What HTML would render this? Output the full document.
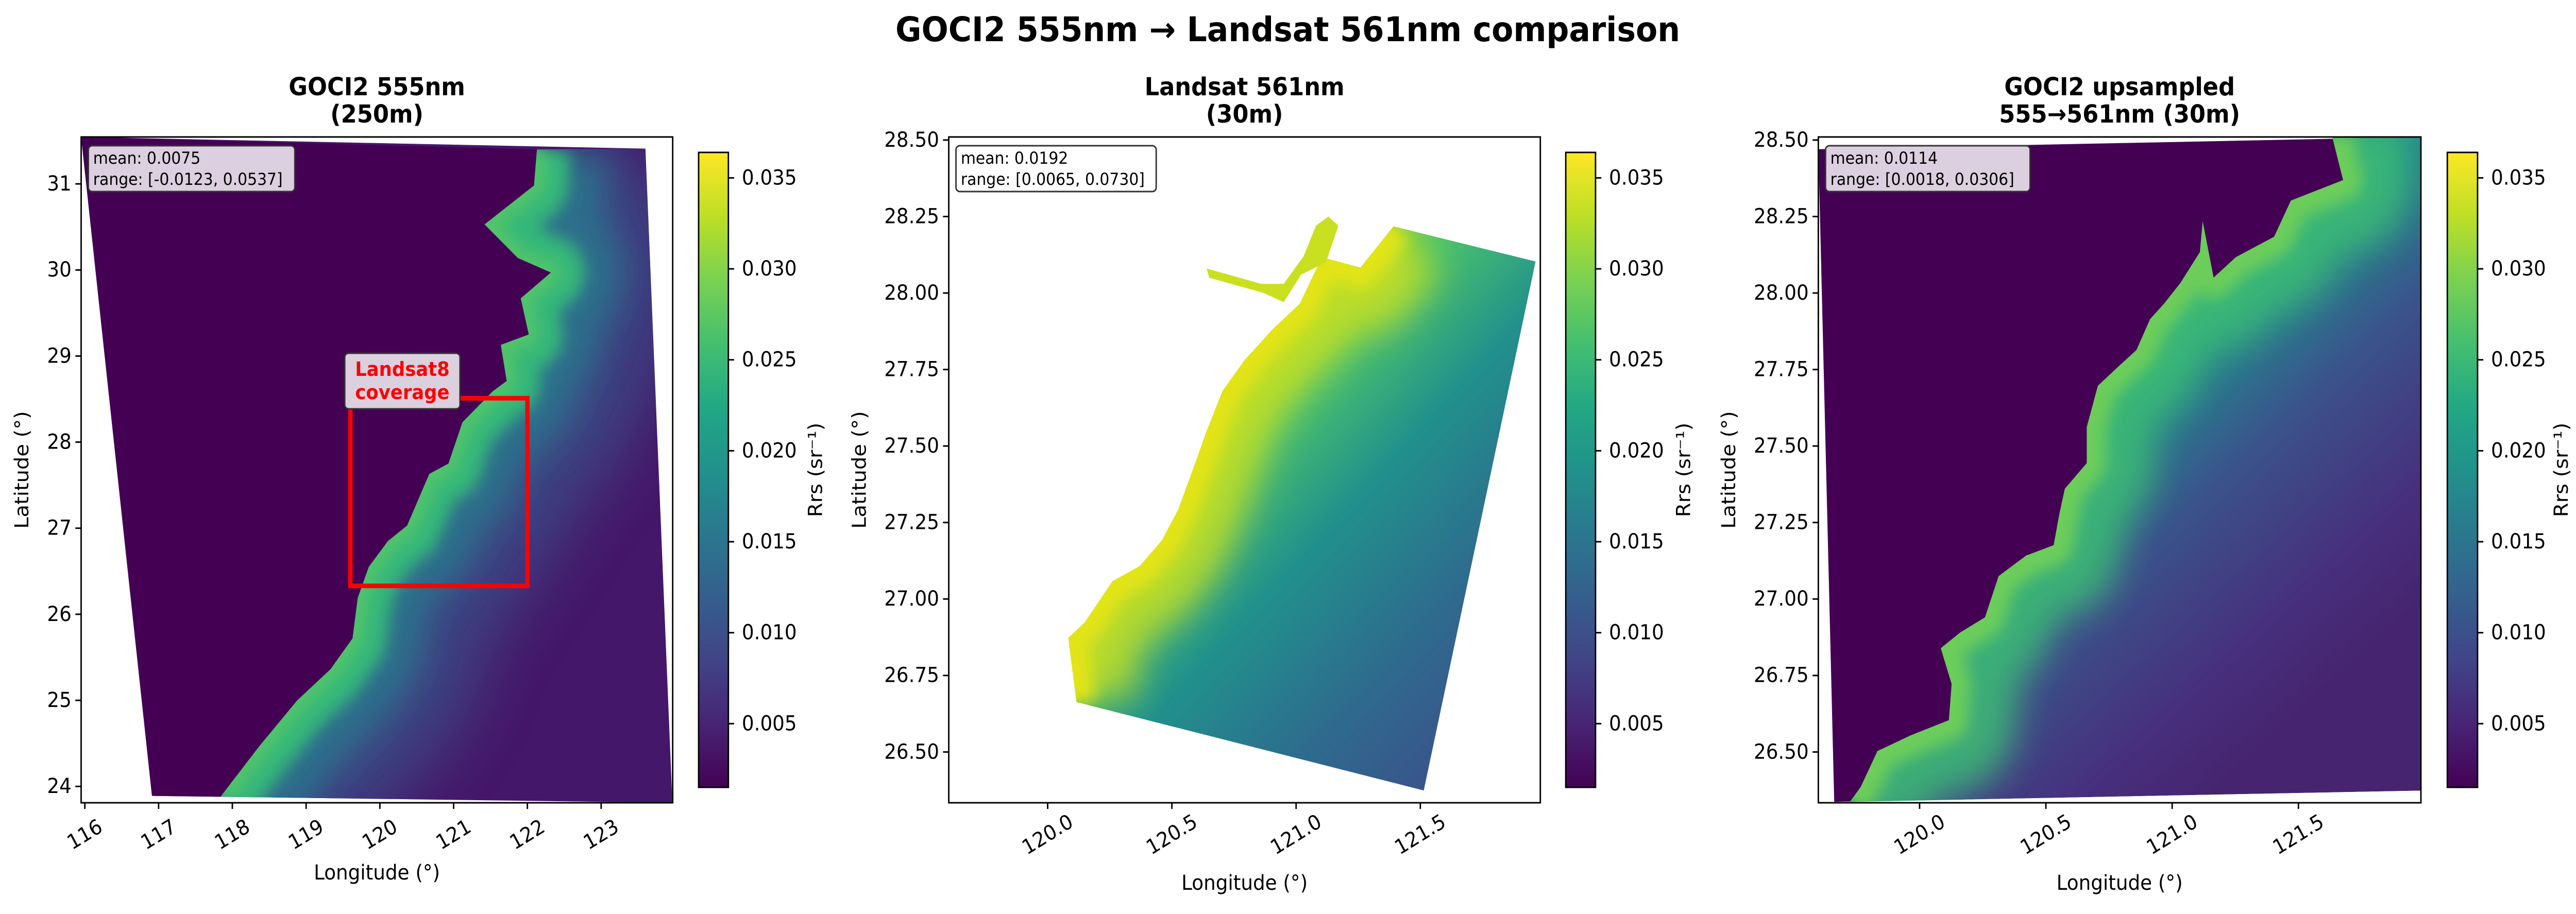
<!DOCTYPE html>
<html><head><meta charset="utf-8">
<style>
html,body{margin:0;padding:0;background:#fff;width:100%;height:100%;overflow:hidden;}
svg{display:block;position:absolute;left:0;top:0;width:100vw;height:100vh;font-family:"DejaVu Sans","Liberation Sans",sans-serif;}
</style></head><body>
<svg id="fig" xmlns="http://www.w3.org/2000/svg" viewBox="0 0 5365 1775" preserveAspectRatio="none">
<defs>
<linearGradient id="viridis" x1="0" y1="1" x2="0" y2="0">
<stop offset="0" stop-color="#440154"/><stop offset="0.1" stop-color="#482475"/><stop offset="0.2" stop-color="#414487"/><stop offset="0.3" stop-color="#355f8d"/><stop offset="0.4" stop-color="#2a788e"/><stop offset="0.5" stop-color="#21918c"/><stop offset="0.6" stop-color="#22a884"/><stop offset="0.7" stop-color="#44bf70"/><stop offset="0.8" stop-color="#7ad151"/><stop offset="0.9" stop-color="#bddf26"/><stop offset="1" stop-color="#fde725"/>
</linearGradient>
<linearGradient id="sea2" gradientUnits="userSpaceOnUse" x1="2450" y1="750" x2="3150" y2="1450">
<stop offset="0" stop-color="#a5db36"/><stop offset="0.2" stop-color="#4ac16d"/><stop offset="0.42" stop-color="#21918c"/><stop offset="0.7" stop-color="#2e6b8e"/><stop offset="1" stop-color="#3d4d8a"/>
</linearGradient>
<linearGradient id="sea3" gradientUnits="userSpaceOnUse" x1="4250" y1="650" x2="4850" y2="1350">
<stop offset="0" stop-color="#3fbc73"/><stop offset="0.25" stop-color="#23898e"/><stop offset="0.5" stop-color="#3b528b"/><stop offset="0.8" stop-color="#472f7d"/><stop offset="1" stop-color="#46246f"/>
</linearGradient>
</defs>
<text x="2682" y="80" font-size="66" font-weight="bold" text-anchor="middle">GOCI2 555nm → Landsat 561nm comparison</text>
</svg>
<script>
// ---- data ----
const colorbarTicks = [0.005, 0.010, 0.015, 0.020, 0.025, 0.030, 0.035];
const colorbarTickLabels = ["0.005", "0.010", "0.015", "0.020", "0.025", "0.030", "0.035"];
const colorRange = [0.0015, 0.0364];
const p1LonTicks = [116, 117, 118, 119, 120, 121, 122, 123];
const p1LatTicks = [24, 25, 26, 27, 28, 29, 30, 31];
const p23LonTicks = [120.0, 120.5, 121.0, 121.5];
const p23LatTicks = [26.50, 26.75, 27.00, 27.25, 27.50, 27.75, 28.00, 28.25, 28.50];
const panelTitles = [["GOCI2 555nm", "(250m)"], ["Landsat 561nm", "(30m)"], ["GOCI2 upsampled", "555→561nm (30m)"]];
const panelMeans = ["0.0075", "0.0192", "0.0114"];
const panelRanges = ["[-0.0123, 0.0537]", "[0.0065, 0.0730]", "[0.0018, 0.0306]"];
const landsatBox = [119.6, 122.0, 26.33, 28.51];
const p1Footprint = [[115.95,31.545],[123.60,31.41],[123.96,23.92],[123.96,23.81],[116.91,23.89]];
const p1Coast = [[122.13,31.40],[122.09,30.98],[121.42,30.53],[121.87,30.14],[122.32,29.97],[121.91,29.67],[122.02,29.25],[121.64,29.13],[121.72,28.71],[121.53,28.59],[121.12,28.23],[120.93,27.75],[120.67,27.63],[120.37,27.03],[120.11,26.85],[119.85,26.55],[119.70,26.19],[119.63,25.72],[119.33,25.36],[118.88,25.00],[118.36,24.46],[117.84,23.88]];
const p2Footprint = [[121.38,28.218],[121.964,28.103],[121.514,26.374],[120.116,26.663]];
const p2Coast = [[121.392,28.218],[121.259,28.083],[121.104,28.117],[121.015,27.965],[120.905,27.881],[120.793,27.781],[120.704,27.680],[120.638,27.545],[120.594,27.444],[120.526,27.293],[120.460,27.192],[120.371,27.108],[120.261,27.058],[120.149,26.923],[120.083,26.873],[120.116,26.663]];
const p2Estuary = [[121.13,28.25],[121.17,28.22],[121.12,28.10],[121.02,28.06],[120.95,27.97],[120.87,28.00],[120.65,28.05],[120.64,28.08],[120.86,28.03],[120.95,28.03],[121.03,28.12],[121.08,28.22]];
const p3Footprint = [[119.599,28.47],[121.985,28.51],[121.985,26.374],[119.662,26.337]];
const p3Coast = [[121.634,28.51],[121.677,28.369],[121.470,28.302],[121.404,28.184],[121.252,28.117],[121.164,28.05],[121.121,28.234],[121.110,28.134],[121.033,28.033],[120.968,27.965],[120.913,27.915],[120.859,27.814],[120.793,27.764],[120.706,27.697],[120.662,27.562],[120.662,27.444],[120.575,27.360],[120.553,27.276],[120.531,27.176],[120.422,27.142],[120.313,27.075],[120.259,26.940],[120.160,26.890],[120.084,26.839],[120.127,26.722],[120.116,26.604],[119.964,26.554],[119.833,26.503],[119.767,26.386],[119.724,26.337]];

// ---- layout ----
const NS = "http://www.w3.org/2000/svg";
const svg = document.getElementById("fig");
const defs = svg.querySelector("defs");
const panels = [
  {x0:169, x1:1401, y0:266, y1:1559, lon0:115.95, lon1:123.97, lat0:23.81, lat1:31.545, cb0:1455, cb1:1517, latX:46, rrsX:1699, xlabY:1695, lonT:p1LonTicks, latT:p1LatTicks, lonF:v=>String(v), latF:v=>String(v), box:[184,283,430,89]},
  {x0:1976, x1:3208, y0:266, y1:1559, lon0:119.602, lon1:121.983, lat0:26.334, lat1:28.51, cb0:3261, cb1:3323, latX:1790, rrsX:3507, xlabY:1715, lonT:p23LonTicks, latT:p23LatTicks, lonF:v=>v.toFixed(1), latF:v=>v.toFixed(2), box:[1991,283,417,89]},
  {x0:3787, x1:5042, y0:266, y1:1559, lon0:119.599, lon1:121.985, lat0:26.334, lat1:28.51, cb0:5097, cb1:5160, latX:3601, rrsX:5335, xlabY:1715, lonT:p23LonTicks, latT:p23LatTicks, lonF:v=>v.toFixed(1), latF:v=>v.toFixed(2), box:[3802,283,426,89]}
];
const cbTop = 296, cbBot = 1529;
function mk(tag, attrs, parent){ const e = document.createElementNS(NS, tag); for (const k in attrs) e.setAttribute(k, attrs[k]); (parent || svg).appendChild(e); return e; }
function sx(p, lon){ return p.x0 + (lon - p.lon0) / (p.lon1 - p.lon0) * (p.x1 - p.x0); }
function sy(p, lat){ return p.y1 - (lat - p.lat0) / (p.lat1 - p.lat0) * (p.y1 - p.y0); }
function pts(p, arr){ return arr.map(a => sx(p, a[0]).toFixed(1) + "," + sy(p, a[1]).toFixed(1)).join(" "); }
function cy(v){ return cbBot - (v - colorRange[0]) / (colorRange[1] - colorRange[0]) * (cbBot - cbTop); }

panels.forEach((p, i) => {
  [["60", 60], ["35", 35], ["15", 15]].forEach(f => {
    const fl = mk("filter", {id: "b" + f[0] + "_" + i, filterUnits: "userSpaceOnUse", x: p.x0, y: p.y0, width: p.x1 - p.x0, height: p.y1 - p.y0}, defs);
    mk("feGaussianBlur", {stdDeviation: f[1]}, fl);
  });
  const F = n => "url(#b" + n + "_" + i + ")";
  const g = mk("g", {});
  
  
  const cp = mk("clipPath", {id: "ax" + i}, defs);
  mk("rect", {x: p.x0, y: p.y0, width: p.x1 - p.x0, height: p.y1 - p.y0}, cp);
  const img = mk("g", {"clip-path": "url(#ax" + i + ")"}, g);
  
  

  if (i === 0) {
    mk("polygon", {points: pts(p, p1Footprint), fill: "#45176a"}, img);
    const land = [p1Footprint[0]].concat(p1Coast).concat([p1Footprint[4]]);
    mk("polygon", {points: pts(p, land), fill: "#440154"}, img);
    const sea = p1Coast.concat([p1Footprint[3], p1Footprint[2], p1Footprint[1]]);
    const sc = mk("clipPath", {id: "sea0"}, defs);
    mk("polygon", {points: pts(p, sea)}, sc);
    const sg = mk("g", {"clip-path": "url(#sea0)"}, img);
    const d = "M" + pts(p, p1Coast).split(" ").join(" L");
    mk("path", {d: d, fill: "none", stroke: "#3b528b", "stroke-width": 560, opacity: 0.7, filter: F("60"), "stroke-linejoin": "round"}, sg);
    mk("path", {d: d, fill: "none", stroke: "#2a788e", "stroke-width": 300, opacity: 0.85, filter: F("35"), "stroke-linejoin": "round"}, sg);
    mk("path", {d: d, fill: "none", stroke: "#35b779", "stroke-width": 140, filter: F("15"), "stroke-linejoin": "round"}, sg);
    mk("path", {d: d, fill: "none", stroke: "#52c569", "stroke-width": 40, "stroke-linejoin": "round", filter: F("15")}, sg);
    const r = mk("rect", {x: sx(p, landsatBox[0]), y: sy(p, landsatBox[3]), width: sx(p, landsatBox[1]) - sx(p, landsatBox[0]), height: sy(p, landsatBox[2]) - sy(p, landsatBox[3]), fill: "none", stroke: "#ff0000", "stroke-width": 9}, g);
    
    
    const lb = mk("rect", {x: 718, y: 686, width: 240, height: 108, rx: 8, fill: "#dcd0de", stroke: "#333", "stroke-width": 3}, g);
    
    
    const lt = mk("text", {x: 838, y: 730, "font-size": 38, "font-weight": "bold", fill: "#ff0000", "text-anchor": "middle"}, g);
    
    
    lt.textContent = "Landsat8";
    const lt2 = mk("text", {x: 838, y: 775, "font-size": 38, "font-weight": "bold", fill: "#ff0000", "text-anchor": "middle"}, g);
    
    
    lt2.textContent = "coverage";
  } else if (i === 1) {
    const sea = p2Coast.concat([p2Footprint[2], p2Footprint[1]]);
    const sc = mk("clipPath", {id: "sea1"}, defs);
    mk("polygon", {points: pts(p, sea)}, sc);
    const sg = mk("g", {"clip-path": "url(#sea1)"}, img);
    mk("polygon", {points: pts(p, sea), fill: "url(#sea2)"}, sg);
    const d = "M" + pts(p, p2Coast).split(" ").join(" L");
    mk("path", {d: d, fill: "none", stroke: "#c8e020", "stroke-width": 260, opacity: 0.85, filter: F("35"), "stroke-linejoin": "round"}, sg);
    mk("path", {d: d, fill: "none", stroke: "#e2e418", "stroke-width": 80, filter: F("15"), "stroke-linejoin": "round"}, sg);
    mk("polygon", {points: pts(p, p2Estuary), fill: "#c9e020"}, img);
  } else {
    mk("polygon", {points: pts(p, p3Footprint), fill: "#440154"}, img);
    const sea = p3Coast.concat([p3Footprint[2], p3Footprint[1]]);
    const sc = mk("clipPath", {id: "sea2c"}, defs);
    mk("polygon", {points: pts(p, sea)}, sc);
    const sg = mk("g", {"clip-path": "url(#sea2c)"}, img);
    mk("polygon", {points: pts(p, sea), fill: "url(#sea3)"}, sg);
    const d = "M" + pts(p, p3Coast).split(" ").join(" L");
    mk("path", {d: d, fill: "none", stroke: "#3dbc74", "stroke-width": 280, opacity: 0.85, filter: F("35"), "stroke-linejoin": "round"}, sg);
    mk("path", {d: d, fill: "none", stroke: "#6ccd5a", "stroke-width": 80, filter: F("15"), "stroke-linejoin": "round"}, sg);
  }

  const fr = mk("rect", {x: p.x0, y: p.y0, width: p.x1 - p.x0, height: p.y1 - p.y0, fill: "none", stroke: "#000", "stroke-width": 3}, g);
  
  

  p.lonT.forEach(v => {
    const x = sx(p, v);
    const t = mk("line", {x1: x, y1: p.y1, x2: x, y2: p.y1 + 12, stroke: "#000", "stroke-width": 3}, g);
    
    
    const tl = mk("text", {x: x, y: p.y1 + 62, "font-size": 40, "text-anchor": "middle", "dominant-baseline": "central", transform: "rotate(-30 " + x + " " + (p.y1 + 62) + ")"}, g);
    
    
    tl.textContent = p.lonF(v);
  });
  p.latT.forEach(v => {
    const y = sy(p, v);
    const t = mk("line", {x1: p.x0 - 12, y1: y, x2: p.x0, y2: y, stroke: "#000", "stroke-width": 3}, g);
    
    
    const tl = mk("text", {x: p.x0 - 20, y: y, "font-size": 40, "text-anchor": "end", "dominant-baseline": "central"}, g);
    
    
    tl.textContent = p.latF(v);
  });
  const xl = mk("text", {x: (p.x0 + p.x1) / 2, y: p.xlabY, "font-size": 40, "text-anchor": "middle", "dominant-baseline": "central"}, g);
  
  
  xl.textContent = "Longitude (°)";
  const yl = mk("text", {x: p.latX, y: (p.y0 + p.y1) / 2, "font-size": 40, "text-anchor": "middle", "dominant-baseline": "central", transform: "rotate(-90 " + p.latX + " " + ((p.y0 + p.y1) / 2) + ")"}, g);
  
  
  yl.textContent = "Latitude (°)";

  panelTitles[i].forEach((s, k) => {
    const tt = mk("text", {x: (p.x0 + p.x1) / 2, y: 185 + k * 53, "font-size": 48, "font-weight": "bold", "text-anchor": "middle"}, g);
    
    
    tt.textContent = s;
  });

  const bx = mk("rect", {x: p.box[0], y: p.box[1], width: p.box[2], height: p.box[3], rx: 8, fill: i === 1 ? "#ffffff" : "#dccfdf", stroke: "#333", "stroke-width": 3}, g);
  
  
  const s1 = mk("text", {x: p.box[0] + 10, y: p.box[1] + 35, "font-size": 32}, g);
  
  
  s1.textContent = "mean: " + panelMeans[i];
  const s2 = mk("text", {x: p.box[0] + 10, y: p.box[1] + 76, "font-size": 32}, g);
  
  
  s2.textContent = "range: " + panelRanges[i];

  const cb = mk("rect", {x: p.cb0, y: cbTop, width: p.cb1 - p.cb0, height: cbBot - cbTop, fill: "url(#viridis)", stroke: "#000", "stroke-width": 3}, g);
  
  
  colorbarTicks.forEach((v, k) => {
    const y = cy(v);
    const t = mk("line", {x1: p.cb1, y1: y, x2: p.cb1 + 12, y2: y, stroke: "#000", "stroke-width": 3}, g);
    
    
    const tl = mk("text", {x: p.cb1 + 28, y: y, "font-size": 40, "dominant-baseline": "central"}, g);
    
    
    tl.textContent = colorbarTickLabels[k];
  });
  const cl = mk("text", {x: p.rrsX, y: (cbTop + cbBot) / 2, "font-size": 40, "text-anchor": "middle", "dominant-baseline": "central", transform: "rotate(-90 " + p.rrsX + " " + ((cbTop + cbBot) / 2) + ")"}, g);
  
  
  cl.textContent = "Rrs (sr⁻¹)";
});
</script>
</body></html>
